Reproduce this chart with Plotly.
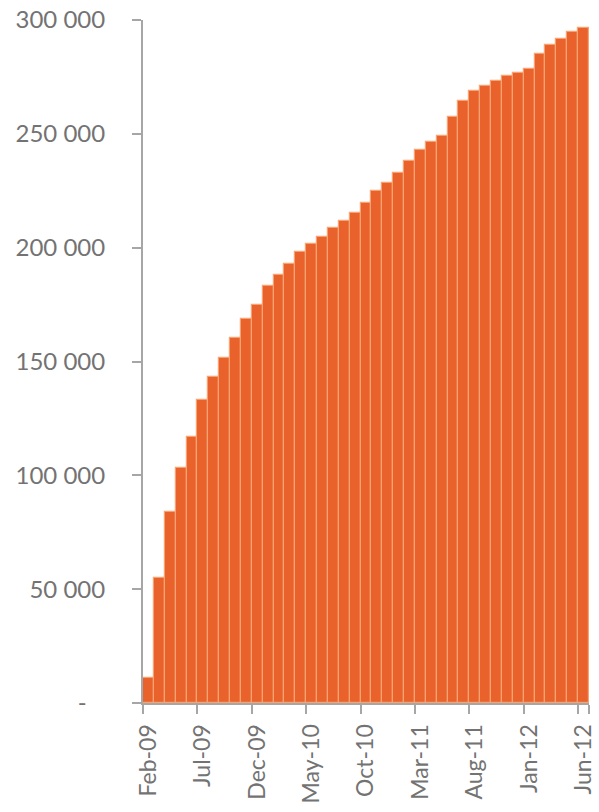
import plotly.graph_objects as go

months = ["Feb-09", "Mar-09", "Apr-09", "May-09", "Jun-09", "Jul-09", "Aug-09", "Sep-09",
          "Oct-09", "Nov-09", "Dec-09", "Jan-10", "Feb-10", "Mar-10", "Apr-10", "May-10",
          "Jun-10", "Jul-10", "Aug-10", "Sep-10", "Oct-10", "Nov-10", "Dec-10", "Jan-11",
          "Feb-11", "Mar-11", "Apr-11", "May-11", "Jun-11", "Jul-11", "Aug-11", "Sep-11",
          "Oct-11", "Nov-11", "Dec-11", "Jan-12", "Feb-12", "Mar-12", "Apr-12", "May-12",
          "Jun-12"]
values = [10800, 54800, 84100, 103100, 117000, 133000, 143200, 151700,
          160200, 168700, 174600, 183200, 188200, 192800, 198000, 201500,
          204900, 208700, 211500, 215200, 219600, 225000, 228300, 232700,
          237900, 242700, 246600, 249100, 257400, 264500, 268600, 271100,
          273300, 275500, 276700, 278600, 285000, 289000, 291700, 294700,
          296700]
x_tick_labels = ["Feb-09", "Jul-09", "Dec-09", "May-10", "Oct-10", "Mar-11",
                 "Aug-11", "Jan-12", "Jun-12"]
y_tick_vals = [0, 50000, 100000, 150000, 200000, 250000, 300000]
y_tick_text = ["-\u00a0\u00a0\u00a0", "50 000", "100 000", "150 000", "200 000",
               "250 000", "300 000"]

fig = go.Figure(go.Bar(
    x=months, y=values,
    marker=dict(color="#E9622B", line=dict(color="#F8A272", width=1.2)),
))

axis_color = "#A6A6A6"
font_color = "#737373"
fig.update_layout(
    width=599, height=812,
    margin=dict(l=143, r=10, t=20, b=109, autoexpand=False),
    paper_bgcolor="white", plot_bgcolor="white",
    bargap=0,
    showlegend=False,
    font=dict(family="Lato", size=24, color=font_color),
)
fig.update_xaxes(
    type="category",
    tickmode="array", tickvals=x_tick_labels, ticktext=x_tick_labels,
    tickson="boundaries",
    tickangle=-90,
    ticks="outside", ticklen=9, tickwidth=2, tickcolor=axis_color,
    showline=True, linecolor=axis_color, linewidth=2,
    showgrid=False, automargin=False,
    tickfont=dict(family="Lato", size=23, color=font_color),
    ticklabelstandoff=10,
)
fig.update_yaxes(
    range=[0, 300000],
    tickmode="array", tickvals=y_tick_vals, ticktext=y_tick_text,
    ticks="outside", ticklen=9, tickwidth=2, tickcolor=axis_color,
    showline=True, linecolor=axis_color, linewidth=2,
    showgrid=False, zeroline=False, automargin=False,
    tickfont=dict(family="Lato", size=24, color=font_color),
    ticklabelstandoff=22,
)

fig.write_html("out.html")
